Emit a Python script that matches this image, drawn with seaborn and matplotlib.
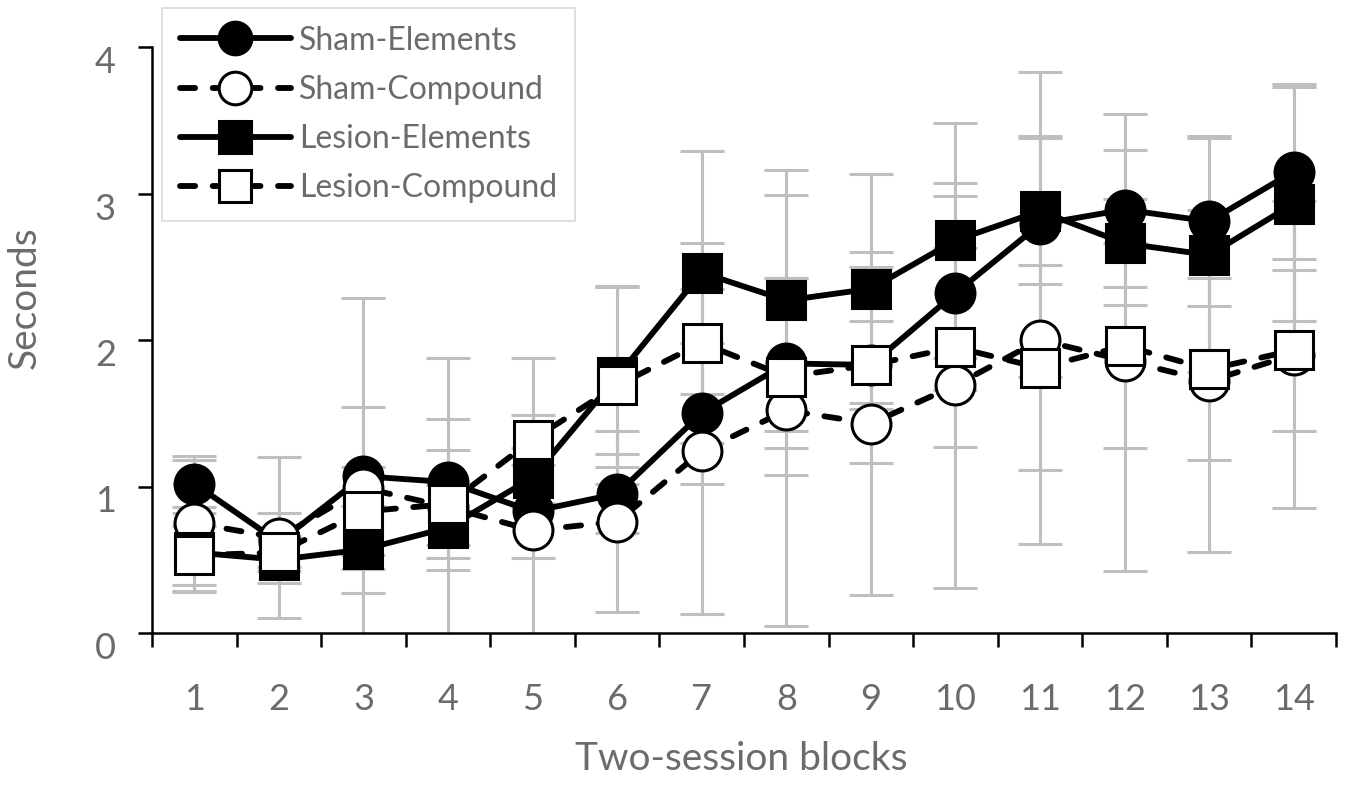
import numpy as np
import pandas as pd
import matplotlib
matplotlib.use("Agg")
import matplotlib.pyplot as plt
import matplotlib.transforms as mtransforms
import seaborn as sns

# valeurs (secondes)
blocks = list(range(1, 15))
groups = ["Sham-Elements", "Sham-Compound", "Lesion-Elements", "Lesion-Compound"]

sham_elements = [1.02, 0.62, 1.07, 1.03, 0.83, 0.95, 1.50, 1.84, 1.83, 2.32, 2.79, 2.89, 2.81, 3.15]
sham_compound = [0.75, 0.65, 0.99, 0.86, 0.70, 0.76, 1.24, 1.52, 1.43, 1.69, 2.00, 1.86, 1.72, 1.90]
lesion_elements = [0.55, 0.50, 0.57, 0.72, 1.06, 1.75, 2.46, 2.27, 2.35, 2.68, 2.88, 2.66, 2.58, 2.93]
lesion_compound = [0.53, 0.55, 0.83, 0.88, 1.32, 1.69, 1.98, 1.75, 1.83, 1.95, 1.81, 1.96, 1.80, 1.93]

# erreurs (barres grises)
err_sham_elements = [0.16, 0.20, 1.22, 0.43, 1.05, 0.27, 0.48, 0.58, 0.30, 0.66, 1.04, 0.65, 0.58, 0.60]
err_sham_compound = [0.46, 0.55, 0.55, 1.02, 0.19, 0.62, 1.11, 1.47, 1.17, 1.38, 1.39, 1.44, 1.17, 1.05]
err_lesion_elements = [0.27, 0.16, 0.30, 0.29, 0.20, 0.62, 0.83, 0.89, 0.78, 0.80, 0.50, 0.30, 0.80, 0.80]
err_lesion_compound = [0.20, 0.10, 0.30, 0.37, 0.17, 0.67, 0.68, 0.67, 0.67, 0.68, 0.70, 0.70, 0.62, 0.55]

means = [sham_elements, sham_compound, lesion_elements, lesion_compound]
errs = [err_sham_elements, err_sham_compound, err_lesion_elements, err_lesion_compound]

df = pd.DataFrame({
    "block": blocks * 4,
    "seconds": sham_elements + sham_compound + lesion_elements + lesion_compound,
    "group": np.repeat(groups, len(blocks)),
})

sns.set_style("ticks")
plt.rcParams['font.family'] = ['Lato', 'DejaVu Sans']
plt.rcParams['lines.dash_capstyle'] = 'round'

grey_txt = "#6b6b6b"

fig = plt.figure(figsize=(13.48, 7.87), dpi=100)
ax = fig.add_axes([152 / 1348, 1 - 633 / 787, (1336 - 152) / 1348, (633 - 47) / 787])

# barres d'erreur en gris, sous les courbes
for m, e in zip(means, errs):
    ax.errorbar(blocks, m, yerr=e, fmt="none", ecolor="#bfbfbf", elinewidth=2.2,
                capsize=16, capthick=2.2, zorder=1)

sns.lineplot(data=df, x="block", y="seconds", hue="group", style="group",
             hue_order=groups, style_order=groups,
             palette=["black"] * 4,
             markers={"Sham-Elements": "o", "Sham-Compound": "o",
                      "Lesion-Elements": "s", "Lesion-Compound": "s"},
             dashes={"Sham-Elements": "", "Sham-Compound": (2.6, 3.0),
                     "Lesion-Elements": "", "Lesion-Compound": (2.6, 3.0)},
             linewidth=4.2, markersize=28, markeredgewidth=2.2,
             markeredgecolor="black", legend=False, ax=ax, zorder=2)

lines = [l for l in ax.get_lines() if l.get_marker() in ("o", "s")]
for l, g in zip(lines, groups):
    l.set_markeredgecolor("black")
    l.set_markerfacecolor("white" if "Compound" in g else "black")

ax.set_xlim(0.5, 14.5)
ax.set_ylim(0, 4)
ax.set_yticks([0, 1, 2, 3, 4])
ax.set_xticks(np.arange(0.5, 15, 1))
ax.set_xticklabels([])
ax.set_xticks(blocks, minor=True)
ax.set_xticklabels([str(b) for b in blocks], minor=True)
ax.tick_params(axis="x", which="major", length=10, width=1.8, direction="out", color="black")
ax.tick_params(axis="x", which="minor", length=0, pad=36, labelsize=26, labelcolor=grey_txt)
ax.tick_params(axis="y", length=10, width=1.8, direction="out", color="black",
               pad=16, labelsize=26, labelcolor=grey_txt)

# les chiffres de l'axe y sont un peu plus bas que les graduations
shift = mtransforms.ScaledTranslation(0, -9 / 72, fig.dpi_scale_trans)
for lab in ax.get_yticklabels():
    lab.set_transform(lab.get_transform() + shift)

sns.despine(ax=ax)
for s in ["left", "bottom"]:
    ax.spines[s].set_linewidth(1.8)
    ax.spines[s].set_color("black")

ax.set_xlabel("Two-session blocks", fontsize=28, color=grey_txt)
ax.set_ylabel("Seconds", fontsize=28, color=grey_txt)
ax.xaxis.set_label_coords(0.498, -0.185)
ax.yaxis.set_label_coords(-0.092, 0.573)

leg = ax.legend(lines, groups, loc="upper left",
                bbox_to_anchor=(162 / 1348, 1 - 8 / 787), bbox_transform=fig.transFigure,
                fontsize=23, handlelength=3.5, handletextpad=0.25, numpoints=1,
                markerscale=0.84, frameon=True, fancybox=False, borderaxespad=0,
                borderpad=0.55, labelspacing=0.6, labelcolor=grey_txt)
leg.get_frame().set_edgecolor("#d0d0d0")
leg.get_frame().set_linewidth(1.2)

fig.savefig("out.png", dpi=100)
